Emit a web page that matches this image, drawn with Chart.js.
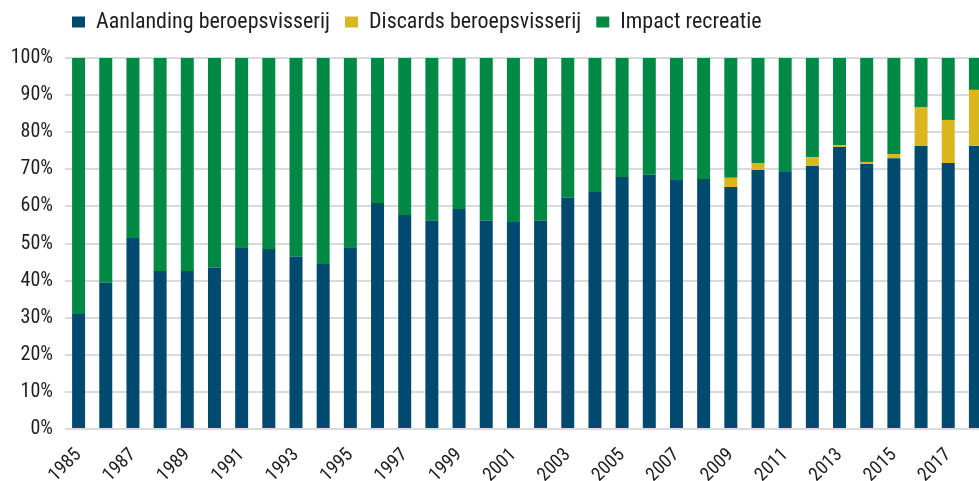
<!DOCTYPE html>
<html>
<head>
<meta charset="utf-8">
<script src="https://cdn.jsdelivr.net/npm/chart.js@4.4.1/dist/chart.umd.min.js"></script>
<style>
  html, body { margin: 0; padding: 0; overflow: hidden; background: #fff; width: 979px; height: 481px; }
  #wrap { position: absolute; left: 0; top: 0; width: 989px; height: 481px; }
</style>
</head>
<body>
<div id="wrap"><canvas id="c"></canvas></div>
<script>
const years = ['1985','1986','1987','1988','1989','1990','1991','1992','1993','1994','1995','1996','1997','1998','1999','2000','2001','2002','2003','2004','2005','2006','2007','2008','2009','2010','2011','2012','2013','2014','2015','2016','2017','2018'];
const aanlanding = [31.0,39.4,51.5,42.6,42.6,43.5,49.0,48.5,46.4,44.5,49.0,60.9,57.7,56.1,59.3,56.1,55.8,56.1,62.3,63.9,67.9,68.5,67.1,67.4,65.2,69.8,69.3,70.9,76.0,71.4,73.0,76.3,71.7,76.3];
const discards = [0,0,0,0,0,0,0,0,0,0,0,0,0,0,0,0,0,0,0,0,0,0,0,0,2.5,1.9,0,2.4,0.5,0.6,1.1,10.5,11.6,15.1];
const recreatie = [69.0,60.6,48.5,57.4,57.4,56.5,51.0,51.5,53.6,55.5,51.0,39.1,42.3,43.9,40.7,43.9,44.2,43.9,37.7,36.1,32.1,31.5,32.9,32.6,32.3,28.3,30.7,26.7,23.5,28.0,25.9,13.2,16.7,8.6];
const seriesNames = ['Aanlanding beroepsvisserij','Discards beroepsvisserij','Impact recreatie'];
const yTicks = [0,10,20,30,40,50,60,70,80,90,100];

// pick a condensed font if one is installed
const mctx = document.createElement('canvas').getContext('2d');
function w(font, txt) { mctx.font = '10px monospace'; mctx.font = font; return mctx.measureText(txt).width; }
const SAMPLE = 'Aanlanding beroepsvisserij 1985';
function has(f) {
  return w('40px "' + f + '", monospace', SAMPLE) !== w('40px monospace', SAMPLE) ||
         w('40px "' + f + '", serif', SAMPLE) !== w('40px serif', SAMPLE);
}
function condensedWorks(f) {
  if (!has(f)) return false;
  const n = w('40px "' + f + '"', SAMPLE), c = w('condensed 40px "' + f + '"', SAMPLE);
  return c < n * 0.95 && c > n * 0.6;
}
let FAMILY = '"Roboto", sans-serif', STRETCH = undefined;
const plain = ['Roboto Condensed', 'Liberation Sans Narrow', 'DejaVu Sans Condensed', 'Arial Narrow', 'Noto Sans Condensed', 'Open Sans Condensed'];
const found = plain.find(has);
if (found) { FAMILY = '"' + found + '", sans-serif'; }
else {
  const st = ['Noto Sans', 'Open Sans', 'DejaVu Sans', 'Roboto'].find(condensedWorks);
  if (st) { FAMILY = '"' + st + '", sans-serif'; STRETCH = 'condensed'; }
}
function font(size) { return STRETCH ? { family: FAMILY, size: size, weight: STRETCH } : { family: FAMILY, size: size }; }

const TEXT = '#1e1e1e';
const GRID = '#dadada';

const layoutFix = {
  id: 'layoutFix',
  beforeLayout(chart) {
    const lg = chart.legend;
    if (lg && !lg._fixed) {
      const orig = lg.fit.bind(lg);
      lg.fit = function () { orig(); this.height = 58; };
      lg._fixed = true;
    }
  },
  afterLayout(chart) {
    const lg = chart.legend;
    const p = lg.options.labels.padding;
    const fs = lg.options.labels.font.size;
    lg.left = 72 - p;
    lg.top = 22 - p - fs / 2;
  }
};

new Chart(document.getElementById('c'), {
  type: 'bar',
  data: {
    labels: years,
    datasets: [
      { label: seriesNames[0], data: aanlanding, backgroundColor: '#004a70' },
      { label: seriesNames[1], data: discards, backgroundColor: '#d8b71f' },
      { label: seriesNames[2], data: recreatie, backgroundColor: '#008944' }
    ]
  },
  options: {
    responsive: true,
    maintainAspectRatio: false,
    animation: false,
    layout: { padding: 0 },
    datasets: { bar: { barPercentage: 0.478, categoryPercentage: 1, borderWidth: 0 } },
    plugins: {
      tooltip: { enabled: false },
      legend: {
        position: 'top',
        align: 'start',
        labels: {
          boxWidth: 13,
          boxHeight: 11,
          padding: 15,
          color: TEXT,
          font: font(22)
        }
      }
    },
    scales: {
      x: {
        stacked: true,
        grid: { display: false, drawTicks: false },
        border: { display: false },
        afterFit(s) { s.height = 52; s.paddingLeft = 0; s.paddingRight = 0; },
        ticks: {
          autoSkip: false,
          maxRotation: 45,
          minRotation: 45,
          padding: 15,
          color: TEXT,
          font: font(19),
          callback(v, i) { return i % 2 === 0 ? years[i] : ''; }
        }
      },
      y: {
        stacked: true,
        min: 0,
        max: 100,
        afterBuildTicks(s) { s.ticks = yTicks.map(v => ({ value: v })); },
        afterFit(s) { s.width = 65; },
        grid: { color: GRID, lineWidth: 2, drawTicks: false },
        border: { display: false },
        ticks: {
          padding: 12,
          color: TEXT,
          font: font(20),
          callback(v) { return v + '%'; }
        }
      }
    }
  },
  plugins: [layoutFix]
});
</script>
</body>
</html>
